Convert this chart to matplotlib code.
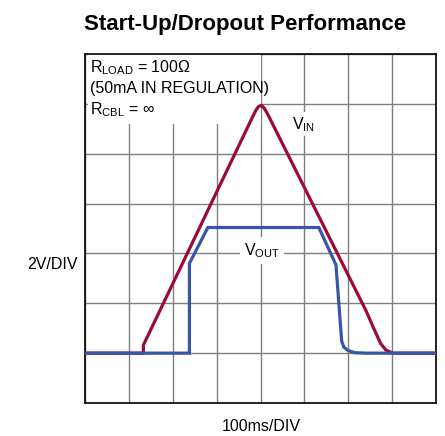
import matplotlib
matplotlib.use('Agg')
import matplotlib.pyplot as plt
from matplotlib import font_manager
from matplotlib.patches import Rectangle

# scope trace: x in divisions (100ms/DIV), y in divisions (2V/DIV)
vin_t = [0.0, 1.33, 1.33, 3.82, 3.90, 3.96, 4.02, 4.08, 4.16, 6.40, 6.62, 6.74, 6.86, 7.02, 8.0]
vin_v = [1.0, 1.0, 1.16, 5.74, 5.88, 5.95, 5.97, 5.92, 5.80, 1.86, 1.42, 1.19, 1.06, 1.0, 1.0]

vout_t = [0.0, 2.38, 2.38, 2.80, 5.33, 5.72, 5.85, 5.90, 6.00, 6.15, 6.40, 8.0]
vout_v = [1.0, 1.0, 2.80, 3.52, 3.52, 2.77, 1.24, 1.12, 1.05, 1.01, 1.0, 1.0]

n_xdiv = 8
n_ydiv = 7

red = '#9a0b3b'
blue = '#3856a8'


def has_font(name):
    try:
        font_manager.findfont(name, fallback_to_default=False)
        return True
    except Exception:
        return False


plt.rcParams['font.family'] = ['Liberation Sans', 'DejaVu Sans']

fig = plt.figure(figsize=(4.45, 4.36), dpi=100)
W, H = 445.0, 436.0
ax = fig.add_axes([85 / W, 1 - 403 / H, (436 - 85) / W, (403 - 54) / H])

ax.set_xlim(0, n_xdiv)
ax.set_ylim(0, n_ydiv)
ax.set_xticks(range(n_xdiv + 1))
ax.set_yticks(range(n_ydiv + 1))
ax.tick_params(length=0, labelbottom=False, labelleft=False)
ax.set_axisbelow(True)
ax.grid(True, color='#7f7f7f', lw=1.0)
for s in ax.spines.values():
    s.set_linewidth(1.2)
    s.set_color('black')

# white patch behind the conditions text
ax.add_patch(Rectangle((0.06, 5.6), 3.94, 1.4, facecolor='white', edgecolor='none', zorder=1))

ax.plot(vin_t, vin_v, color=red, lw=2.3, solid_joinstyle='round', zorder=3)
ax.plot(vout_t, vout_v, color=blue, lw=2.3, solid_joinstyle='miter', zorder=3)

fs = 11.5
ax.text(0.11, 6.63, r'R$_\mathregular{LOAD}$ = 100Ω', fontsize=fs, va='baseline', zorder=4)
ax.text(0.11, 6.22, '(50mA IN REGULATION)', fontsize=fs, va='baseline', zorder=4)
ax.text(0.11, 5.79, r'R$_\mathregular{CBL}$ = ∞', fontsize=fs, va='baseline', zorder=4)

box = dict(facecolor='white', edgecolor='none', pad=2)
ax.text(4.98, 5.59, r'V$_\mathregular{IN}$', fontsize=fs, ha='center', va='center', bbox=box, zorder=2)
ax.text(4.03, 3.06, r'V$_\mathregular{OUT}$', fontsize=fs, ha='center', va='center',
        bbox=dict(facecolor='white', edgecolor='none', pad=3), zorder=2)

fig.text(78 / W, 1 - 264 / H, '2V/DIV', fontsize=fs, ha='right', va='center')
fig.text(261 / W, 1 - 426 / H, '100ms/DIV', fontsize=fs, ha='center', va='center')

if has_font('Liberation Sans Narrow'):
    fig.text(85 / W, 1 - 30 / H, 'Start-Up/Dropout Performance', fontsize=19,
             fontweight='bold', family='Liberation Sans Narrow', ha='left', va='baseline')
else:
    fig.text(84 / W, 1 - 30 / H, 'Start-Up/Dropout Performance', fontsize=16,
             fontweight='bold', ha='left', va='baseline')

fig.savefig('out.png', dpi=100)
